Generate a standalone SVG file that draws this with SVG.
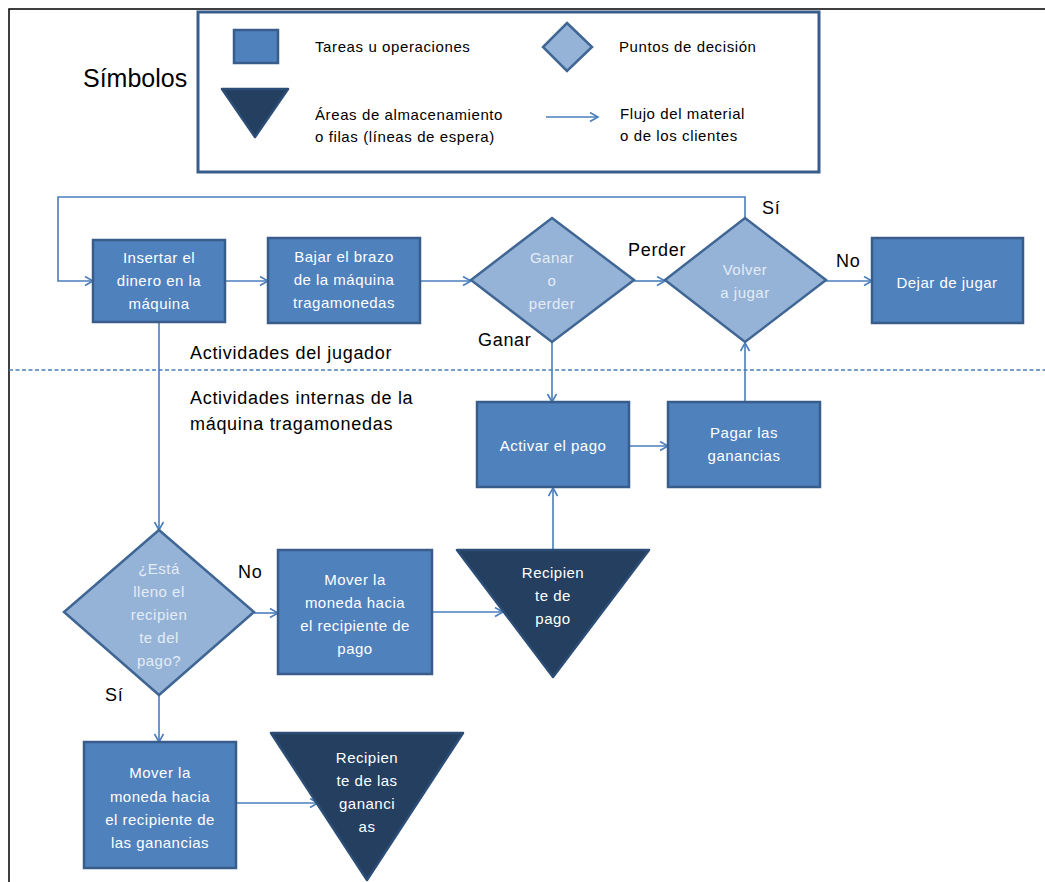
<svg xmlns="http://www.w3.org/2000/svg" width="1045" height="882" viewBox="0 0 1045 882">
<defs>
<style>
.box{fill:#4f81bd;stroke:#385d8a;stroke-width:2.5}
.dia{fill:#95b3d7;stroke:#3f6694;stroke-width:2.5}
.tri{fill:#243f60;stroke:#2c4d75;stroke-width:2.5;stroke-linejoin:round}
.wt{font-family:"Liberation Sans",Arial,sans-serif;font-size:15px;letter-spacing:0.5px;fill:#ffffff;text-anchor:middle}
.dt{font-family:"Liberation Sans",Arial,sans-serif;font-size:15px;letter-spacing:0.5px;fill:#e4ecf6;text-anchor:middle}
.lb{font-family:"Liberation Sans",Arial,sans-serif;font-size:18px;letter-spacing:0.7px;fill:#000000}
.lg{font-family:"Liberation Sans",Arial,sans-serif;font-size:15px;letter-spacing:0.6px;fill:#000000}
.cn{fill:none;stroke:#4a7ebb;stroke-width:1.6}
</style>
<marker id="ar" markerWidth="12" markerHeight="12" refX="9" refY="5" orient="auto" markerUnits="userSpaceOnUse">
<path d="M1,0.5 L9,5 L1,9.5" fill="none" stroke="#4a7ebb" stroke-width="1.6"/>
</marker>
</defs>
<rect width="1045" height="882" fill="#ffffff"/>
<path d="M9,882 L9,9 L1045,9" fill="none" stroke="#000000" stroke-width="1.5"/>

<g id="legend">
<rect x="198" y="12" width="621" height="160" fill="#ffffff" stroke="#385d8a" stroke-width="3"/>
<rect x="234" y="30" width="44" height="33" class="box"/>
<text x="315" y="52" class="lg">Tareas u operaciones</text>
<polygon points="567,23 592,47 567,71 543,47" class="dia"/>
<text x="619" y="52" class="lg">Puntos de decisión</text>
<polygon points="222,89 288,89 255,137" class="tri"/>
<text x="315" y="120" class="lg">Áreas de almacenamiento</text>
<text x="315" y="142" class="lg">o filas (líneas de espera)</text>
<line x1="546" y1="117" x2="598" y2="117" class="cn" marker-end="url(#ar)"/>
<text x="620" y="119" class="lg">Flujo del material</text>
<text x="620" y="141" class="lg">o de los clientes</text>
</g>
<text x="83" y="87" font-family="Liberation Sans, Arial, sans-serif" font-size="25" fill="#000000">Símbolos</text>

<line x1="9" y1="370" x2="1045" y2="370" stroke="#4a7ebb" stroke-width="1.3" stroke-dasharray="4,2.5"/>
<text x="190" y="359" class="lb">Actividades del jugador</text>
<text x="190" y="404" class="lb">Actividades internas de la</text>
<text x="190" y="430" class="lb">máquina tragamonedas</text>

<g id="connectors">
<path d="M745,218 L745,197 L58,197 L58,281 L93,281" class="cn" marker-end="url(#ar)"/>
<line x1="225" y1="281" x2="268" y2="281" class="cn" marker-end="url(#ar)"/>
<line x1="420" y1="281" x2="471" y2="281" class="cn" marker-end="url(#ar)"/>
<line x1="634" y1="281" x2="665" y2="281" class="cn" marker-end="url(#ar)"/>
<line x1="826" y1="281" x2="872" y2="281" class="cn" marker-end="url(#ar)"/>
<line x1="552" y1="342" x2="552" y2="402" class="cn" marker-end="url(#ar)"/>
<line x1="629" y1="446" x2="668" y2="446" class="cn" marker-end="url(#ar)"/>
<line x1="745" y1="402" x2="745" y2="343" class="cn" marker-end="url(#ar)"/>
<line x1="159" y1="322" x2="159" y2="530" class="cn" marker-end="url(#ar)"/>
<line x1="254" y1="613" x2="278" y2="613" class="cn" marker-end="url(#ar)"/>
<line x1="432" y1="612" x2="503" y2="612" class="cn" marker-end="url(#ar)"/>
<line x1="553" y1="550" x2="553" y2="488" class="cn" marker-end="url(#ar)"/>
<line x1="159" y1="695" x2="159" y2="742" class="cn" marker-end="url(#ar)"/>
<line x1="236" y1="803" x2="318" y2="803" class="cn" marker-end="url(#ar)"/>
</g>

<g id="insertar">
<rect x="93" y="240" width="132" height="82" class="box"/>
<text x="159" y="263" class="wt">Insertar el</text>
<text x="159" y="286" class="wt">dinero  en la</text>
<text x="159" y="309" class="wt">máquina</text>
</g>
<g id="bajar">
<rect x="268" y="238" width="152" height="85" class="box"/>
<text x="344" y="262" class="wt">Bajar el brazo</text>
<text x="344" y="285" class="wt">de la máquina</text>
<text x="344" y="308" class="wt">tragamonedas</text>
</g>
<g id="ganar">
<polygon points="552,218 634,280 552,342 471,280" class="dia"/>
<text x="552" y="263" class="dt">Ganar</text>
<text x="552" y="286" class="dt">o</text>
<text x="552" y="309" class="dt">perder</text>
</g>
<text x="628" y="256" class="lb">Perder</text>
<text x="478" y="346" class="lb">Ganar</text>
<g id="volver">
<polygon points="745,218 826,280 745,342 665,280" class="dia"/>
<text x="745" y="275" class="dt">Volver</text>
<text x="745" y="298" class="dt">a jugar</text>
</g>
<text x="762" y="214" class="lb">Sí</text>
<text x="836" y="267" class="lb">No</text>
<g id="dejar">
<rect x="872" y="238" width="151" height="85" class="box"/>
<text x="947" y="288" class="wt">Dejar  de jugar</text>
</g>
<g id="activar">
<rect x="477" y="402" width="152" height="85" class="box"/>
<text x="553" y="451" class="wt">Activar el pago</text>
</g>
<g id="pagar">
<rect x="668" y="402" width="152" height="85" class="box"/>
<text x="744" y="438" class="wt">Pagar las</text>
<text x="744" y="461" class="wt">ganancias</text>
</g>
<g id="esta">
<polygon points="159,530 254,612 159,695 64,612" class="dia"/>
<text x="159" y="574" class="dt">¿Está</text>
<text x="159" y="597" class="dt">lleno  el</text>
<text x="159" y="620" class="dt">recipien</text>
<text x="159" y="643" class="dt">te del</text>
<text x="159" y="666" class="dt">pago?</text>
</g>
<text x="238" y="578" class="lb">No</text>
<text x="105" y="701" class="lb">Sí</text>
<g id="mover1">
<rect x="278" y="550" width="154" height="124" class="box"/>
<text x="355" y="585" class="wt">Mover la</text>
<text x="355" y="608" class="wt">moneda  hacia</text>
<text x="355" y="631" class="wt">el recipiente  de</text>
<text x="355" y="654" class="wt">pago</text>
</g>
<g id="recipiente-pago">
<polygon points="457,550 649,550 553,677" class="tri"/>
<text x="553" y="578" class="wt">Recipien</text>
<text x="553" y="601" class="wt">te de</text>
<text x="553" y="624" class="wt">pago</text>
</g>
<g id="mover2">
<rect x="84" y="742" width="152" height="126" class="box"/>
<text x="160" y="778" class="wt">Mover la</text>
<text x="160" y="802" class="wt">moneda   hacia</text>
<text x="160" y="825" class="wt">el recipiente  de</text>
<text x="160" y="848" class="wt">las ganancias</text>
</g>
<g id="recipiente-ganancias">
<polygon points="271,733 463,733 367,880" class="tri"/>
<text x="367" y="763" class="wt">Recipien</text>
<text x="367" y="786" class="wt">te de las</text>
<text x="367" y="809" class="wt">gananci</text>
<text x="367" y="832" class="wt">as</text>
</g>
</svg>
